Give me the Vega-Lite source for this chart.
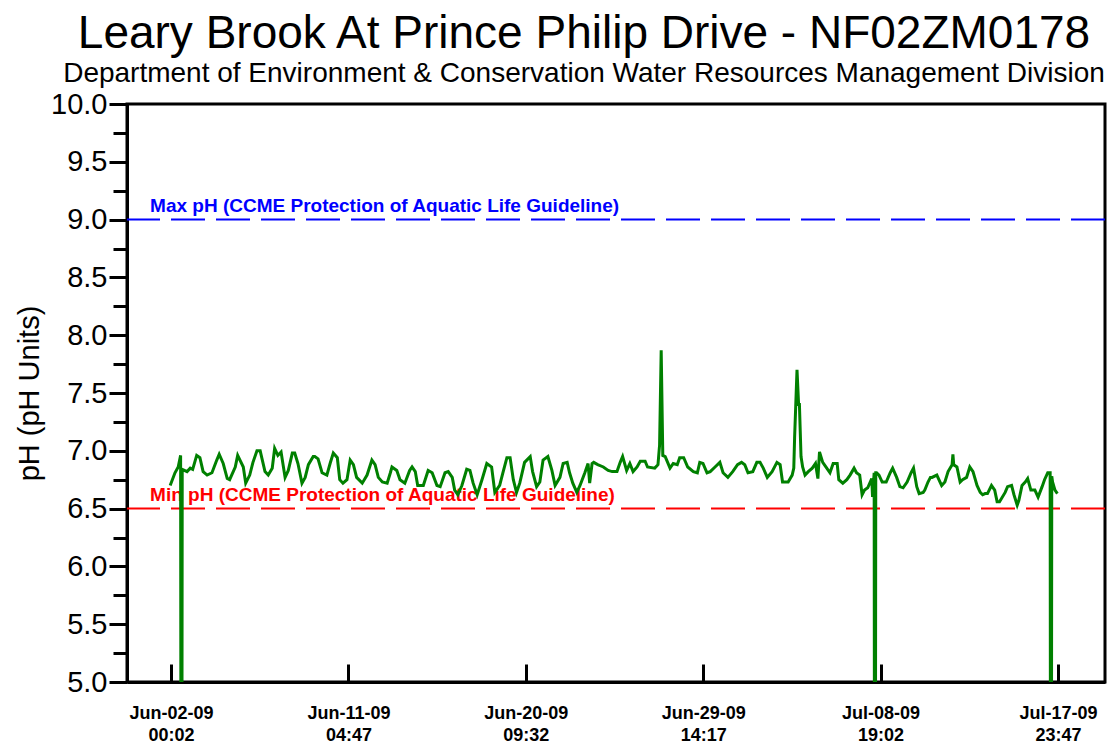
{
  "$schema": "https://vega.github.io/schema/vega-lite/v6.json",
  "autosize": {"type": "none"},
  "width": 978,
  "height": 578,
  "padding": {"left": 127, "top": 104, "right": 10, "bottom": 66},
  "background": "white",
  "config": {"view": {"stroke": "black", "strokeWidth": 3}},
  "title": {
    "text": "Leary Brook At Prince Philip Drive - NF02ZM0178",
    "subtitle": "Department of Environment & Conservation Water Resources Management Division",
    "font": "Liberation Sans", "subtitleFont": "Liberation Sans",
    "fontSize": 46, "subtitleFontSize": 28, "fontWeight": "normal",
    "color": "black", "subtitleColor": "black",
    "anchor": "middle", "dx": -32, "offset": 1, "subtitlePadding": 2
  },
  "resolve": {"axis": {"y": "independent"}},
  "datasets": {
    "guides": [
      {"kind": "max", "label": "Max pH (CCME Protection of Aquatic Life Guideline)", "ph": 9.0},
      {"kind": "min", "label": "Min pH (CCME Protection of Aquatic Life Guideline)", "ph": 6.5}
    ],
    "series": [
      {"t":"2009-06-01T23:00:00Z","ph":6.70},
      {"t":"2009-06-02T05:00:00Z","ph":6.81},{"t":"2009-06-02T09:00:00Z","ph":6.86},{"t":"2009-06-02T12:00:00Z","ph":6.96},{"t":"2009-06-02T13:00:00Z","ph":0},{"t":"2009-06-02T14:00:00Z","ph":6.84},{"t":"2009-06-02T20:00:00Z","ph":6.82},
      {"t":"2009-06-03T00:00:00Z","ph":6.85},{"t":"2009-06-03T03:00:00Z","ph":6.84},{"t":"2009-06-03T08:00:00Z","ph":6.96},{"t":"2009-06-03T12:00:00Z","ph":6.94},{"t":"2009-06-03T16:00:00Z","ph":6.82},{"t":"2009-06-03T21:00:00Z","ph":6.79},
      {"t":"2009-06-04T03:00:00Z","ph":6.81},{"t":"2009-06-04T09:00:00Z","ph":6.92},{"t":"2009-06-04T12:00:00Z","ph":6.97},{"t":"2009-06-04T17:00:00Z","ph":6.89},{"t":"2009-06-04T22:00:00Z","ph":6.76},
      {"t":"2009-06-05T01:00:00Z","ph":6.75},{"t":"2009-06-05T08:00:00Z","ph":6.86},{"t":"2009-06-05T11:00:00Z","ph":6.96},{"t":"2009-06-05T18:00:00Z","ph":6.86},{"t":"2009-06-05T21:00:00Z","ph":6.72},
      {"t":"2009-06-06T02:00:00Z","ph":6.79},{"t":"2009-06-06T06:00:00Z","ph":6.90},{"t":"2009-06-06T11:00:00Z","ph":7.00},{"t":"2009-06-06T15:00:00Z","ph":7.00},{"t":"2009-06-06T21:00:00Z","ph":6.82},
      {"t":"2009-06-07T01:00:00Z","ph":6.79},{"t":"2009-06-07T06:00:00Z","ph":6.85},{"t":"2009-06-07T09:00:00Z","ph":7.02},{"t":"2009-06-07T13:00:00Z","ph":6.96},{"t":"2009-06-07T17:00:00Z","ph":6.99},{"t":"2009-06-07T22:00:00Z","ph":6.77},
      {"t":"2009-06-08T02:00:00Z","ph":6.83},{"t":"2009-06-08T07:00:00Z","ph":6.98},{"t":"2009-06-08T10:00:00Z","ph":6.98},{"t":"2009-06-08T14:00:00Z","ph":6.89},{"t":"2009-06-08T19:00:00Z","ph":6.72},{"t":"2009-06-08T23:00:00Z","ph":6.77},
      {"t":"2009-06-09T03:00:00Z","ph":6.88},{"t":"2009-06-09T09:00:00Z","ph":6.95},{"t":"2009-06-09T11:00:00Z","ph":6.95},{"t":"2009-06-09T15:00:00Z","ph":6.93},{"t":"2009-06-09T20:00:00Z","ph":6.81},
      {"t":"2009-06-10T02:00:00Z","ph":6.79},{"t":"2009-06-10T06:00:00Z","ph":6.89},{"t":"2009-06-10T10:00:00Z","ph":6.98},{"t":"2009-06-10T15:00:00Z","ph":6.94},{"t":"2009-06-10T18:00:00Z","ph":6.75},{"t":"2009-06-10T22:00:00Z","ph":6.72},
      {"t":"2009-06-11T03:00:00Z","ph":6.75},{"t":"2009-06-11T07:00:00Z","ph":6.92},{"t":"2009-06-11T11:00:00Z","ph":6.88},{"t":"2009-06-11T15:00:00Z","ph":6.77},{"t":"2009-06-11T22:00:00Z","ph":6.72},
      {"t":"2009-06-12T04:00:00Z","ph":6.79},{"t":"2009-06-12T10:00:00Z","ph":6.92},{"t":"2009-06-12T14:00:00Z","ph":6.88},{"t":"2009-06-12T18:00:00Z","ph":6.77},{"t":"2009-06-12T23:00:00Z","ph":6.73},
      {"t":"2009-06-13T05:00:00Z","ph":6.72},{"t":"2009-06-13T09:00:00Z","ph":6.81},{"t":"2009-06-13T11:00:00Z","ph":6.86},{"t":"2009-06-13T17:00:00Z","ph":6.83},{"t":"2009-06-13T21:00:00Z","ph":6.75},
      {"t":"2009-06-14T03:00:00Z","ph":6.72},{"t":"2009-06-14T09:00:00Z","ph":6.83},{"t":"2009-06-14T12:00:00Z","ph":6.86},{"t":"2009-06-14T16:00:00Z","ph":6.82},{"t":"2009-06-14T19:00:00Z","ph":6.70},
      {"t":"2009-06-15T02:00:00Z","ph":6.70},{"t":"2009-06-15T08:00:00Z","ph":6.83},{"t":"2009-06-15T13:00:00Z","ph":6.81},{"t":"2009-06-15T19:00:00Z","ph":6.70},{"t":"2009-06-15T23:00:00Z","ph":6.69},
      {"t":"2009-06-16T05:00:00Z","ph":6.81},{"t":"2009-06-16T09:00:00Z","ph":6.82},{"t":"2009-06-16T14:00:00Z","ph":6.77},{"t":"2009-06-16T17:00:00Z","ph":6.66},{"t":"2009-06-16T21:00:00Z","ph":6.62},
      {"t":"2009-06-17T02:00:00Z","ph":6.70},{"t":"2009-06-17T08:00:00Z","ph":6.84},{"t":"2009-06-17T12:00:00Z","ph":6.83},{"t":"2009-06-17T16:00:00Z","ph":6.72},{"t":"2009-06-17T21:00:00Z","ph":6.62},
      {"t":"2009-06-18T03:00:00Z","ph":6.75},{"t":"2009-06-18T09:00:00Z","ph":6.89},{"t":"2009-06-18T15:00:00Z","ph":6.86},{"t":"2009-06-18T19:00:00Z","ph":6.64},
      {"t":"2009-06-19T01:00:00Z","ph":6.70},{"t":"2009-06-19T05:00:00Z","ph":6.81},{"t":"2009-06-19T10:00:00Z","ph":6.94},{"t":"2009-06-19T14:00:00Z","ph":6.94},{"t":"2009-06-19T18:00:00Z","ph":6.75},{"t":"2009-06-19T22:00:00Z","ph":6.64},
      {"t":"2009-06-20T02:00:00Z","ph":6.72},{"t":"2009-06-20T08:00:00Z","ph":6.90},{"t":"2009-06-20T15:00:00Z","ph":6.95},{"t":"2009-06-20T18:00:00Z","ph":6.82},{"t":"2009-06-20T23:00:00Z","ph":6.69},
      {"t":"2009-06-21T03:00:00Z","ph":6.73},{"t":"2009-06-21T07:00:00Z","ph":6.92},{"t":"2009-06-21T13:00:00Z","ph":6.95},{"t":"2009-06-21T18:00:00Z","ph":6.83},{"t":"2009-06-21T22:00:00Z","ph":6.70},
      {"t":"2009-06-22T04:00:00Z","ph":6.77},{"t":"2009-06-22T08:00:00Z","ph":6.89},{"t":"2009-06-22T13:00:00Z","ph":6.90},{"t":"2009-06-22T16:00:00Z","ph":6.81},{"t":"2009-06-22T20:00:00Z","ph":6.72},
      {"t":"2009-06-23T01:00:00Z","ph":6.64},{"t":"2009-06-23T05:00:00Z","ph":6.70},{"t":"2009-06-23T11:00:00Z","ph":6.81},{"t":"2009-06-23T15:00:00Z","ph":6.89},{"t":"2009-06-23T17:00:00Z","ph":6.72},{"t":"2009-06-23T20:00:00Z","ph":6.89},{"t":"2009-06-23T22:00:00Z","ph":6.90},
      {"t":"2009-06-24T03:00:00Z","ph":6.88},{"t":"2009-06-24T10:00:00Z","ph":6.86},{"t":"2009-06-24T16:00:00Z","ph":6.83},{"t":"2009-06-24T21:00:00Z","ph":6.82},
      {"t":"2009-06-25T03:00:00Z","ph":6.82},{"t":"2009-06-25T07:00:00Z","ph":6.90},{"t":"2009-06-25T10:00:00Z","ph":6.95},{"t":"2009-06-25T15:00:00Z","ph":6.83},{"t":"2009-06-25T19:00:00Z","ph":6.89},{"t":"2009-06-25T23:00:00Z","ph":6.82},
      {"t":"2009-06-26T04:00:00Z","ph":6.86},{"t":"2009-06-26T08:00:00Z","ph":6.91},{"t":"2009-06-26T14:00:00Z","ph":6.91},{"t":"2009-06-26T17:00:00Z","ph":6.86},
      {"t":"2009-06-27T02:00:00Z","ph":6.85},{"t":"2009-06-27T06:00:00Z","ph":6.88},{"t":"2009-06-27T08:00:00Z","ph":7.05},{"t":"2009-06-27T10:00:00Z","ph":7.87},{"t":"2009-06-27T12:00:00Z","ph":6.96},{"t":"2009-06-27T15:00:00Z","ph":6.95},{"t":"2009-06-27T18:00:00Z","ph":6.90},{"t":"2009-06-27T21:00:00Z","ph":6.85},
      {"t":"2009-06-28T01:00:00Z","ph":6.89},{"t":"2009-06-28T06:00:00Z","ph":6.88},{"t":"2009-06-28T09:00:00Z","ph":6.94},{"t":"2009-06-28T14:00:00Z","ph":6.94},{"t":"2009-06-28T19:00:00Z","ph":6.86},
      {"t":"2009-06-29T02:00:00Z","ph":6.82},{"t":"2009-06-29T07:00:00Z","ph":6.81},{"t":"2009-06-29T10:00:00Z","ph":6.90},{"t":"2009-06-29T14:00:00Z","ph":6.89},{"t":"2009-06-29T19:00:00Z","ph":6.81},{"t":"2009-06-29T23:00:00Z","ph":6.82},
      {"t":"2009-06-30T05:00:00Z","ph":6.86},{"t":"2009-06-30T11:00:00Z","ph":6.90},{"t":"2009-06-30T15:00:00Z","ph":6.81},{"t":"2009-06-30T21:00:00Z","ph":6.77},
      {"t":"2009-07-01T03:00:00Z","ph":6.82},{"t":"2009-07-01T09:00:00Z","ph":6.88},{"t":"2009-07-01T14:00:00Z","ph":6.90},{"t":"2009-07-01T18:00:00Z","ph":6.88},{"t":"2009-07-01T22:00:00Z","ph":6.81},
      {"t":"2009-07-02T04:00:00Z","ph":6.82},{"t":"2009-07-02T09:00:00Z","ph":6.90},{"t":"2009-07-02T13:00:00Z","ph":6.90},{"t":"2009-07-02T17:00:00Z","ph":6.85},{"t":"2009-07-02T22:00:00Z","ph":6.77},
      {"t":"2009-07-03T04:00:00Z","ph":6.82},{"t":"2009-07-03T10:00:00Z","ph":6.90},{"t":"2009-07-03T14:00:00Z","ph":6.88},{"t":"2009-07-03T17:00:00Z","ph":6.73},
      {"t":"2009-07-04T00:00:00Z","ph":6.73},{"t":"2009-07-04T05:00:00Z","ph":6.79},{"t":"2009-07-04T07:00:00Z","ph":6.85},{"t":"2009-07-04T08:00:00Z","ph":7.11},{"t":"2009-07-04T11:00:00Z","ph":7.70},{"t":"2009-07-04T13:00:00Z","ph":7.40},{"t":"2009-07-04T14:00:00Z","ph":7.40},{"t":"2009-07-04T16:00:00Z","ph":6.95},{"t":"2009-07-04T18:00:00Z","ph":6.86},{"t":"2009-07-04T21:00:00Z","ph":6.79},
      {"t":"2009-07-05T01:00:00Z","ph":6.82},{"t":"2009-07-05T06:00:00Z","ph":6.85},{"t":"2009-07-05T10:00:00Z","ph":6.89},{"t":"2009-07-05T13:00:00Z","ph":6.76},{"t":"2009-07-05T15:00:00Z","ph":6.99},{"t":"2009-07-05T19:00:00Z","ph":6.90},
      {"t":"2009-07-06T00:00:00Z","ph":6.85},{"t":"2009-07-06T04:00:00Z","ph":6.81},{"t":"2009-07-06T08:00:00Z","ph":6.89},{"t":"2009-07-06T13:00:00Z","ph":6.89},{"t":"2009-07-06T15:00:00Z","ph":6.75},{"t":"2009-07-06T20:00:00Z","ph":6.72},
      {"t":"2009-07-07T01:00:00Z","ph":6.75},{"t":"2009-07-07T05:00:00Z","ph":6.79},{"t":"2009-07-07T10:00:00Z","ph":6.85},{"t":"2009-07-07T13:00:00Z","ph":6.81},{"t":"2009-07-07T17:00:00Z","ph":6.79},{"t":"2009-07-07T20:00:00Z","ph":6.62},{"t":"2009-07-07T23:00:00Z","ph":6.66},
      {"t":"2009-07-08T03:00:00Z","ph":6.68},{"t":"2009-07-08T08:00:00Z","ph":6.76},{"t":"2009-07-08T09:00:00Z","ph":6.60},{"t":"2009-07-08T11:00:00Z","ph":6.81},{"t":"2009-07-08T12:00:00Z","ph":0},{"t":"2009-07-08T13:00:00Z","ph":6.81},{"t":"2009-07-08T14:00:00Z","ph":6.81},{"t":"2009-07-08T17:00:00Z","ph":6.79},{"t":"2009-07-08T21:00:00Z","ph":6.73},
      {"t":"2009-07-09T02:00:00Z","ph":6.73},{"t":"2009-07-09T07:00:00Z","ph":6.81},{"t":"2009-07-09T10:00:00Z","ph":6.85},{"t":"2009-07-09T15:00:00Z","ph":6.77},{"t":"2009-07-09T19:00:00Z","ph":6.69},{"t":"2009-07-09T23:00:00Z","ph":6.68},
      {"t":"2009-07-10T04:00:00Z","ph":6.73},{"t":"2009-07-10T09:00:00Z","ph":6.81},{"t":"2009-07-10T12:00:00Z","ph":6.85},{"t":"2009-07-10T16:00:00Z","ph":6.69},{"t":"2009-07-10T19:00:00Z","ph":6.63},
      {"t":"2009-07-11T00:00:00Z","ph":6.64},{"t":"2009-07-11T02:00:00Z","ph":6.66},{"t":"2009-07-11T06:00:00Z","ph":6.73},{"t":"2009-07-11T09:00:00Z","ph":6.77},{"t":"2009-07-11T11:00:00Z","ph":6.77},{"t":"2009-07-11T17:00:00Z","ph":6.79},{"t":"2009-07-11T21:00:00Z","ph":6.73},{"t":"2009-07-11T23:00:00Z","ph":6.70},
      {"t":"2009-07-12T03:00:00Z","ph":6.73},{"t":"2009-07-12T07:00:00Z","ph":6.82},{"t":"2009-07-12T12:00:00Z","ph":6.88},{"t":"2009-07-12T13:00:00Z","ph":6.97},{"t":"2009-07-12T14:00:00Z","ph":6.88},{"t":"2009-07-12T18:00:00Z","ph":6.86},{"t":"2009-07-12T22:00:00Z","ph":6.73},
      {"t":"2009-07-13T01:00:00Z","ph":6.75},{"t":"2009-07-13T06:00:00Z","ph":6.77},{"t":"2009-07-13T10:00:00Z","ph":6.86},{"t":"2009-07-13T14:00:00Z","ph":6.82},{"t":"2009-07-13T19:00:00Z","ph":6.70},{"t":"2009-07-13T23:00:00Z","ph":6.64},
      {"t":"2009-07-14T02:00:00Z","ph":6.62},{"t":"2009-07-14T05:00:00Z","ph":6.63},{"t":"2009-07-14T08:00:00Z","ph":6.63},{"t":"2009-07-14T13:00:00Z","ph":6.70},{"t":"2009-07-14T17:00:00Z","ph":6.66},{"t":"2009-07-14T20:00:00Z","ph":6.56},{"t":"2009-07-14T23:00:00Z","ph":6.56},
      {"t":"2009-07-15T06:00:00Z","ph":6.64},{"t":"2009-07-15T09:00:00Z","ph":6.69},{"t":"2009-07-15T14:00:00Z","ph":6.70},{"t":"2009-07-15T17:00:00Z","ph":6.62},{"t":"2009-07-15T21:00:00Z","ph":6.53},{"t":"2009-07-15T23:00:00Z","ph":6.57},
      {"t":"2009-07-16T03:00:00Z","ph":6.70},{"t":"2009-07-16T07:00:00Z","ph":6.73},{"t":"2009-07-16T10:00:00Z","ph":6.76},{"t":"2009-07-16T14:00:00Z","ph":6.66},{"t":"2009-07-16T19:00:00Z","ph":6.66},{"t":"2009-07-16T23:00:00Z","ph":6.60},
      {"t":"2009-07-17T04:00:00Z","ph":6.69},{"t":"2009-07-17T07:00:00Z","ph":6.75},{"t":"2009-07-17T11:00:00Z","ph":6.81},{"t":"2009-07-17T14:00:00Z","ph":6.81},{"t":"2009-07-17T15:00:00Z","ph":0},{"t":"2009-07-17T16:00:00Z","ph":6.78},{"t":"2009-07-17T17:00:00Z","ph":6.73},{"t":"2009-07-17T20:00:00Z","ph":6.66},{"t":"2009-07-17T23:00:00Z","ph":6.63}
    ]
  },
  "layer": [
    {
      "data": {"name": "guides"},
      "mark": {"type": "rule", "strokeDash": [34, 11], "strokeWidth": 2},
      "encoding": {
        "y": {
          "field": "ph", "type": "quantitative",
          "scale": {"domain": [5, 10], "nice": false, "zero": false},
          "axis": {
            "orient": "left", "title": null, "labels": false, "domain": false, "grid": false,
            "values": [5.25, 5.75, 6.25, 6.75, 7.25, 7.75, 8.25, 8.75, 9.25, 9.75],
            "tickSize": 14, "tickWidth": 3, "tickColor": "black"
          }
        },
        "color": {"field": "kind", "type": "nominal", "scale": {"domain": ["max", "min"], "range": ["#0000ff", "#ff0000"]}, "legend": null}
      }
    },
    {
      "data": {"name": "guides"},
      "mark": {"type": "text", "align": "left", "baseline": "bottom", "dy": -4, "font": "Liberation Sans", "fontSize": 19, "fontWeight": "bold"},
      "encoding": {
        "x": {"datum": {"year": 2009, "month": 5, "date": 31, "hours": 22, "utc": true}, "type": "temporal"},
        "y": {"field": "ph", "type": "quantitative", "axis": null},
        "text": {"field": "label"},
        "color": {"field": "kind", "type": "nominal", "legend": null}
      }
    },
    {
      "data": {"name": "series"},
      "mark": {"type": "line", "color": "#008000", "strokeWidth": 3, "clip": true},
      "encoding": {
        "x": {
          "field": "t", "type": "temporal",
          "scale": {"type": "utc", "nice": false, "domain": [
            {"year": 2009, "month": 5, "date": 30, "hours": 17, "minutes": 17, "utc": true},
            {"year": 2009, "month": 7, "date": 20, "hours": 10, "minutes": 15, "utc": true}
          ]},
          "axis": {
            "title": null, "grid": false,
            "values": [
              {"year": 2009, "month": 6, "date": 2, "hours": 0, "minutes": 2, "utc": true},
              {"year": 2009, "month": 6, "date": 11, "hours": 4, "minutes": 47, "utc": true},
              {"year": 2009, "month": 6, "date": 20, "hours": 9, "minutes": 32, "utc": true},
              {"year": 2009, "month": 6, "date": 29, "hours": 14, "minutes": 17, "utc": true},
              {"year": 2009, "month": 7, "date": 8, "hours": 19, "minutes": 2, "utc": true},
              {"year": 2009, "month": 7, "date": 17, "hours": 23, "minutes": 47, "utc": true}
            ],
            "labelExpr": "[utcFormat(datum.value, '%b-%d-%y'), utcFormat(datum.value, '%H:%M')]",
            "tickSize": -18, "tickWidth": 3, "tickColor": "black",
            "domainColor": "black", "domainWidth": 3,
            "labelFont": "Liberation Sans", "labelFontSize": 18, "labelFontWeight": "bold", "labelColor": "black",
            "labelPadding": 40, "labelLineHeight": 22, "labelBaseline": "top",
            "labelFlush": false, "labelOverlap": false
          }
        },
        "y": {
          "field": "ph", "type": "quantitative",
          "axis": {
            "orient": "left", "title": "pH (pH Units)", "grid": false,
            "values": [5, 5.5, 6, 6.5, 7, 7.5, 8, 8.5, 9, 9.5, 10],
            "format": ".1f",
            "tickSize": 18, "tickWidth": 3, "tickColor": "black",
            "domainColor": "black", "domainWidth": 3,
            "labelFont": "Liberation Sans", "labelFontSize": 29, "labelColor": "black",
            "labelPadding": 2, "labelOverlap": false, "labelFlush": false,
            "titleFont": "Liberation Sans", "titleFontSize": 29, "titleFontWeight": "normal", "titleColor": "black",
            "titlePadding": 6
          }
        }
      }
    }
  ]
}
